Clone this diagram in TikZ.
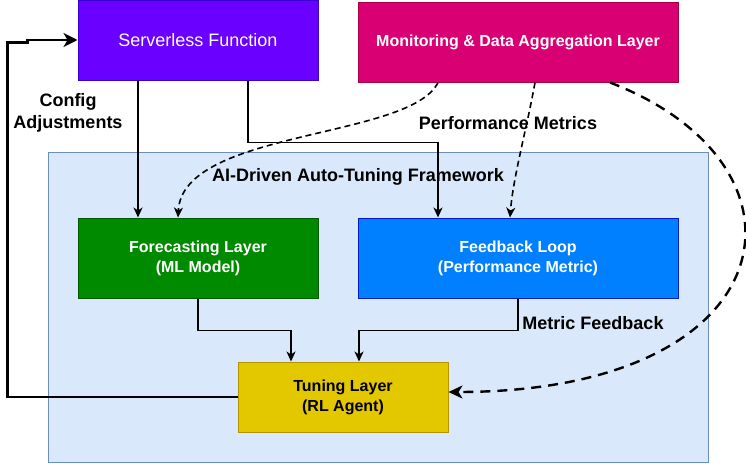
\documentclass[tikz,border=0pt]{standalone}
\usepackage{fontspec}
\setmainfont{Liberation Sans}
\usetikzlibrary{arrows.meta,calc}
\definecolor{sfFill}{HTML}{6A00FF}\definecolor{sfLine}{HTML}{3700CC}
\definecolor{monFill}{HTML}{D80073}\definecolor{monLine}{HTML}{A50040}
\definecolor{fcFill}{HTML}{008A00}\definecolor{fcLine}{HTML}{005700}
\definecolor{fbFill}{HTML}{007FFF}\definecolor{fbLine}{HTML}{001DBC}
\definecolor{tlFill}{HTML}{E3C800}\definecolor{tlLine}{HTML}{B09500}
\definecolor{bgFill}{HTML}{DAE8FC}\definecolor{bgLine}{HTML}{6C8EBF}
\tikzset{
  boxstyle/.style={rectangle, inner sep=0pt, line width=1pt, align=center},
  boxtext/.style={font=\fontsize{16}{20}\selectfont\bfseries},
  lbltext/.style={font=\fontsize{18}{21.6}\selectfont\bfseries, align=center, inner sep=0pt},
  tipsmall/.style={-{Stealth[length=10pt,width=9pt,inset=3pt]}},
  tipbig/.style={-{Stealth[length=14pt,width=14pt,inset=4pt]}},
  thinline/.style={line width=1.4pt, tipsmall},
  thinlinefwd/.style={line width=1.6pt, dash pattern=on 6pt off 4pt, tipsmall},
  thickline/.style={line width=2.2pt, tipbig},
  thickdash/.style={line width=2.4pt, dash pattern=on 10pt off 7pt, -{Stealth[length=14pt,width=13pt,inset=4pt]}},
}
\begin{document}
\begin{tikzpicture}[x=1pt,y=-1pt]
\useasboundingbox (0,0) rectangle (746,463);
% background framework
\node[boxstyle, fill=bgFill, draw=bgLine, minimum width=660pt, minimum height=310pt] (bg) at (378,307) {};
% boxes
\node[boxstyle, fill=sfFill, draw=sfLine, minimum width=240pt, minimum height=80pt, text=white, font=\fontsize{18}{21.6}\selectfont] (sf) at (198,40) {Serverless Function};
\node[boxstyle, boxtext, fill=monFill, draw=monLine, minimum width=320pt, minimum height=80pt, text=white] (mon) at (518,42) {Monitoring \& Data Aggregation Layer};
\node[boxstyle, boxtext, fill=fcFill, draw=fcLine, minimum width=240pt, minimum height=80pt, text=white] (fc) at (198,258) {Forecasting Layer\\(ML Model)};
\node[boxstyle, boxtext, fill=fbFill, draw=fbLine, minimum width=320pt, minimum height=80pt, text=white] (fb) at (518,258) {Feedback Loop\\(Performance Metric)};
\node[boxstyle, boxtext, fill=tlFill, draw=tlLine, minimum width=210pt, minimum height=70pt, text=black] (tl) at (343,397) {Tuning Layer\\(RL Agent)};
% labels
\node[lbltext] (lblcfg) at (68,113) {Config\\Adjustments};
\node[lbltext] (lblperf) at (508,123) {Performance Metrics};
\node[lbltext] (lbltitle) at (358,177) {AI-Driven Auto-Tuning Framework};
\node[lbltext] (lblmf) at (593,323) {Metric Feedback};
% solid connectors
\draw[thinline] ([xshift=-60pt]sf.south) -- ([xshift=-60pt]fc.north);
\draw[thinline] ([xshift=50pt]sf.south) |- ($([xshift=-80pt]fb.north)+(0,-75)$) -- ([xshift=-80pt]fb.north);
\draw[thinline] (fc.south) -- ++(0,32) -| ([xshift=-52pt]tl.north);
\draw[thinline] (fb.south) -- ++(0,32) -| ([xshift=16pt]tl.north);
\draw[thickline] (tl.west) -| ($(sf.west)+(-70,2.5)$) -- ++(20,0) -- ++(0,-2.5) -- (sf.west);
% dashed connectors
\draw[thinlinefwd] ([xshift=-80pt]mon.south) .. controls +(-28,57) and +(4,-88) .. ([xshift=-20pt]fc.north);
\draw[thinlinefwd] ([xshift=17pt]mon.south) .. controls +(-8,45) and +(3,-40) .. ([xshift=-8pt]fb.north);
\draw[thickdash] ([xshift=92pt]mon.south) .. controls +(216,83) and +(341,0) .. ([yshift=5pt]tl.east);
\end{tikzpicture}
\end{document}
